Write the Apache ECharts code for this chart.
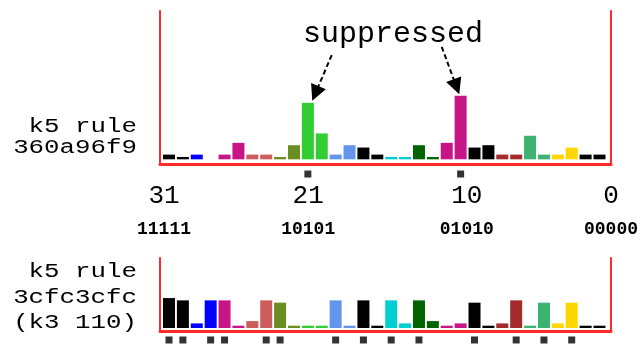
<!DOCTYPE html>
<html>
<head>
<meta charset="utf-8">
<script src="https://cdn.jsdelivr.net/npm/echarts@6/dist/echarts.min.js"></script>
<style>
html, body { margin: 0; padding: 0; background: #fff; }
#chart { width: 641px; height: 345px; }
</style>
</head>
<body>
<div id="chart"></div>
<script>
// bit positions, drawn left (31) to right (0)
var bitIndex = [31,30,29,28,27,26,25,24,23,22,21,20,19,18,17,16,15,14,13,12,11,10,9,8,7,6,5,4,3,2,1,0];
// one colour per pair of neighbouring bits
var pairColors = ['#000000','#0000ff','#c71585','#cd5c5c','#6b8e23','#32cd32','#6495ed','#000000',
                  '#00ced1','#006400','#c71585','#000000','#a52a2a','#3cb371','#ffd700','#000000'];
// k5 rule 360a96f9
var rule1Counts = [2,1,2,0,2,7,2,2,1,6,24,11,2,6,5,2,1,1,6,1,7,27,5,6,2,2,10,2,2,5,2,2];
// k5 rule 3cfc3cfc (k3 110)
var rule2Counts = [13,12,2,12,12,1,3,12,11,1,1,1,12,1,12,1,12,2,12,3,1,2,11,1,2,12,1,11,2,11,1,1];
var rule1Marked = [21, 10];
var rule2Marked = [31,30,28,27,24,23,19,17,15,13,9,6,4,2];
var tickValues = [31, 21, 10, 0];
var tickBinary = ['11111', '10101', '01010', '00000'];

var red = '#ff2a2a';
var mono = 'Liberation Mono';

function barData(counts) {
    return bitIndex.map(function (b, i) {
        return { value: [b, counts[i]], itemStyle: { color: pairColors[Math.floor(i / 2)] } };
    });
}

function markData(marked, y) {
    return marked.map(function (b) { return [b, y]; });
}

function xAx(grid) {
    return {
        type: 'value', gridIndex: grid, inverse: true, min: -0.828, max: 31.648,
        axisLine: { show: grid < 2, onZero: false, lineStyle: { color: red, width: 3 } },
        axisTick: { show: false }, axisLabel: { show: false }, splitLine: { show: false }
    };
}

function yAx(grid, pos, min, max) {
    return {
        type: 'value', gridIndex: grid, position: pos, min: min, max: max,
        axisLine: { show: true, onZero: false, lineStyle: { color: red, width: 2 } },
        axisTick: { show: false }, axisLabel: { show: false }, splitLine: { show: false }
    };
}

function label(text, x, y, size, sx) {
    return {
        type: 'text', x: x, y: y, scaleX: sx || 1,
        style: { text: text, font: size + 'px "' + mono + '"', fill: '#000', textAlign: sx ? 'right' : 'center', textVerticalAlign: 'bottom' }
    };
}

var chart = echarts.init(document.getElementById('chart'));

var option = {
    animation: false,
    grid: [
        { left: 160, right: 30, top: 11, bottom: 180.5 },
        { left: 160, right: 30, top: 258, bottom: 14 },
        { left: 164, right: 29, top: 11, bottom: 180.5 }
    ],
    xAxis: [
        xAx(0),
        xAx(1),
        {
            type: 'value', gridIndex: 2, inverse: true, min: 0, max: 31,
            axisLine: { show: false }, axisTick: { show: false }, splitLine: { show: false },
            axisLabel: {
                customValues: tickValues,
                margin: 14.5,
                formatter: function (v) {
                    return '{d|' + v + '}\n{b|' + tickBinary[tickValues.indexOf(v)] + '}';
                },
                rich: {
                    d: { fontFamily: mono, fontSize: 26, lineHeight: 35, color: '#000' },
                    b: { fontFamily: mono, fontSize: 18, fontWeight: 'bold', lineHeight: 30, color: '#000' }
                }
            }
        }
    ],
    yAxis: [
        yAx(0, 'left', -2.2, 63),
        yAx(0, 'right', -2.2, 63),
        yAx(1, 'left', -1.3, 30.4),
        yAx(1, 'right', -1.3, 30.4),
        { type: 'value', gridIndex: 2, show: false, min: 0, max: 1 }
    ],
    series: [
        {
            type: 'bar', xAxisIndex: 0, yAxisIndex: 0, barWidth: 12,
            data: barData(rule1Counts),
            markLine: {
                silent: true,
                symbol: ['none', 'triangle'],
                symbolSize: 16,
                label: { show: false },
                lineStyle: { color: '#000', width: 2, type: [5, 3] },
                data: [
                    [{ coord: [19.28, 44.3] }, { coord: [20.46, 28.0] }],
                    [{ coord: [11.36, 47.8] }, { coord: [10.30, 30.8] }]
                ]
            }
        },
        {
            type: 'scatter', xAxisIndex: 0, yAxisIndex: 0, clip: false,
            symbol: 'rect', symbolSize: [7, 7], itemStyle: { color: '#000' },
            data: markData(rule1Marked, -6.24)
        },
        {
            type: 'bar', xAxisIndex: 1, yAxisIndex: 2, barWidth: 12,
            data: barData(rule2Counts)
        },
        {
            type: 'scatter', xAxisIndex: 1, yAxisIndex: 2, clip: false,
            symbol: 'rect', symbolSize: [7, 7], itemStyle: { color: '#000' },
            data: markData(rule2Marked, -5.2)
        }
    ],
    graphic: [
        label('suppressed', 393, 49, 30),
        label('k5 rule', 137, 137, 20, 1.29),
        label('360a96f9', 137, 158, 20, 1.29),
        label('k5 rule', 137, 282, 20, 1.29),
        label('3cfc3cfc', 137, 308, 20, 1.29),
        label('(k3 110)', 137, 333, 20, 1.29)
    ]
};

chart.setOption(option);
</script>
</body>
</html>
